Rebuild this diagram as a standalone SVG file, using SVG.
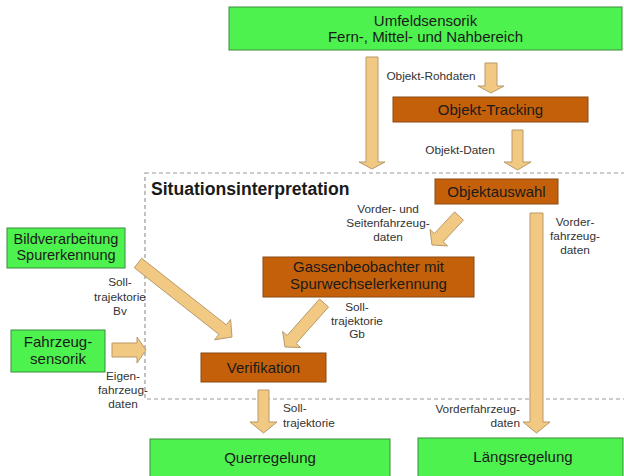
<svg xmlns="http://www.w3.org/2000/svg" width="624" height="476" viewBox="0 0 624 476">
<style>
text{font-family:"Liberation Sans",Arial,sans-serif;fill:#1a1a1a}
.g{fill:#4ef24e;stroke:#3a8a3a;stroke-width:1}
.o{fill:#c4600a;stroke:#8a4a14;stroke-width:1}
.a{fill:#f2c983;stroke:#b8996a;stroke-width:1}
.t{font-size:15px;text-anchor:middle}
.s{font-size:14.5px}
.l{font-size:11.8px;text-anchor:middle;fill:#333}
.dash{fill:none;stroke:#999;stroke-width:1.2;stroke-dasharray:4 3}
</style>
<rect width="624" height="476" fill="#fff"/>
<rect class="dash" x="145" y="173" width="485" height="226"/>
<text x="151" y="195" style="font-size:17.6px;font-weight:bold">Situationsinterpretation</text>

<g id="connectors">
  <polygon class="a" points="366,57 378,57 378,162 385,162 372,169 359,162 366,162"/>
  <polygon class="a" points="485,63 497,63 497,86 504,86 491,93 478,86 485,86"/>
  <polygon class="a" points="512,130 523,130 523,162 531,162 517.5,170 504,162 512,162"/>
  <polygon class="a" points="530,213 543,213 543,422 550,422 536.5,433 523,422 530,422"/>
  <polygon class="a" points="258,390 269,390 269,422 277,422 263.5,433 250,422 258,422"/>
  <polygon class="a" points="112,343 137,343 137,337 146,350 137,363 137,357 112,357"/>
  <polygon class="a" points="141.7,258.3 226.3,324.9 230.6,319.4 232,337 214.6,339.8 218.9,334.3 134.3,267.7"/>
  <polygon class="a" points="463.4,220.1 443.2,241.8 447.6,245.9 432,245 430,229.5 434.4,233.6 454.6,211.9"/>
  <polygon class="a" points="328.5,307 296.1,343.5 300.6,347.5 285,347 282.6,331.5 287.1,335.5 319.5,299"/>
  <text class="l" x="431" y="80">Objekt-Rohdaten</text>
  <text class="l" x="460" y="154">Objekt-Daten</text>
  <text class="l" x="388" y="213">Vorder- und</text>
  <text class="l" x="388" y="227">Seitenfahrzeug-</text>
  <text class="l" x="388" y="241">daten</text>
  <text class="l" x="575" y="226">Vorder-</text>
  <text class="l" x="575" y="240">fahrzeug-</text>
  <text class="l" x="575" y="254">daten</text>
  <text class="l" x="357" y="311">Soll-</text>
  <text class="l" x="357" y="325">trajektorie</text>
  <text class="l" x="357" y="338">Gb</text>
  <text class="l" x="120" y="286">Soll-</text>
  <text class="l" x="120" y="301">trajektorie</text>
  <text class="l" x="120" y="315">Bv</text>
  <text class="l" x="123" y="380">Eigen-</text>
  <text class="l" x="123" y="394">fahrzeug-</text>
  <text class="l" x="123" y="408">daten</text>
  <text class="l" x="283" y="412" style="text-anchor:start">Soll-</text>
  <text class="l" x="283" y="427" style="text-anchor:start">trajektorie</text>
  <text class="l" x="520" y="413" style="text-anchor:end">Vorderfahrzeug-</text>
  <text class="l" x="520" y="427" style="text-anchor:end">daten</text>
</g>

<g id="umfeldsensorik">
  <rect class="g" x="229" y="7" width="393" height="43"/>
  <text class="t" x="425.5" y="26">Umfeldsensorik</text>
  <text class="t" x="425.5" y="42">Fern-, Mittel- und Nahbereich</text>
</g>
<g id="objekt-tracking">
  <rect class="o" x="393" y="97" width="195" height="25"/>
  <text class="t" x="490.5" y="114.5">Objekt-Tracking</text>
</g>
<g id="objektauswahl">
  <rect class="o" x="435" y="179" width="123" height="25"/>
  <text class="t" x="496.5" y="196.5">Objektauswahl</text>
</g>
<g id="gassenbeobachter">
  <rect class="o" x="263" y="257" width="211" height="40"/>
  <text class="t" x="368.5" y="272">Gassenbeobachter mit</text>
  <text class="t" x="368.5" y="289">Spurwechselerkennung</text>
</g>
<g id="verifikation">
  <rect class="o" x="201" y="353" width="125" height="29"/>
  <text class="t" x="263.5" y="372.5">Verifikation</text>
</g>
<g id="bildverarbeitung">
  <rect class="g" x="7" y="228" width="118" height="40"/>
  <text class="t s" x="66" y="243.5">Bildverarbeitung</text>
  <text class="t s" x="66" y="260">Spurerkennung</text>
</g>
<g id="fahrzeugsensorik">
  <rect class="g" x="11" y="330" width="94" height="42"/>
  <text class="t" x="58" y="347">Fahrzeug-</text>
  <text class="t" x="58" y="363.5">sensorik</text>
</g>
<g id="querregelung">
  <rect class="g" x="150" y="439" width="240" height="45"/>
  <text class="t" x="270" y="463">Querregelung</text>
</g>
<g id="laengsregelung">
  <rect class="g" x="418" y="438" width="205" height="46"/>
  <text class="t" x="523" y="462">Längsregelung</text>
</g>
</svg>
